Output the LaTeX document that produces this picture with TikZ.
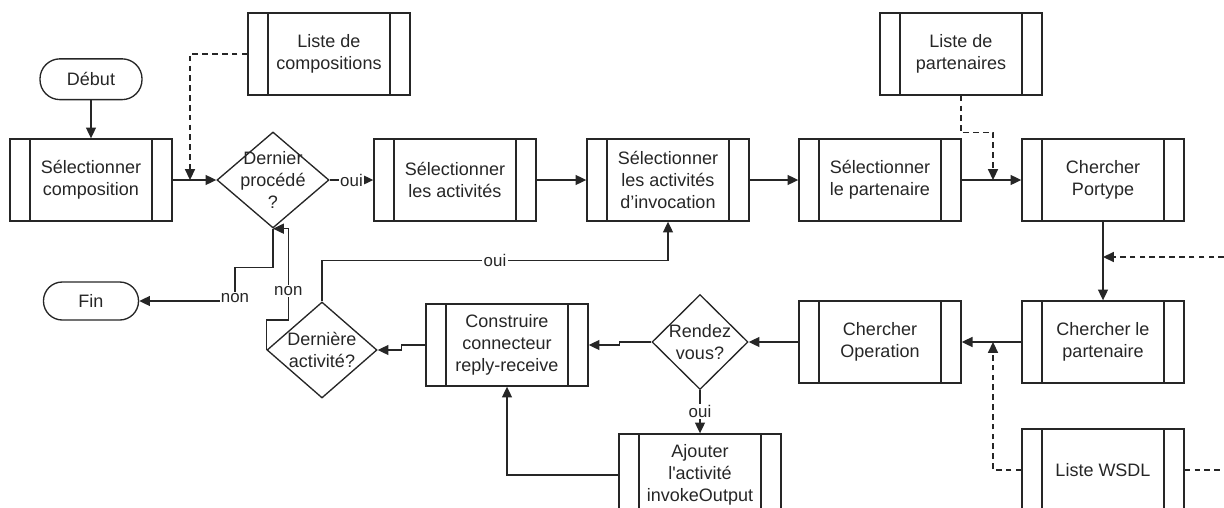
\documentclass[tikz,border=0pt]{standalone}
\usepackage{fontspec}
\setmainfont{Liberation Sans}
\usetikzlibrary{arrows.meta, positioning, shapes.geometric}

\begin{document}
\begin{tikzpicture}[x=0.025cm, y=-0.025cm, line width=0.95pt, color=black!85,
  font=\fontsize{12.8}{15.6}\selectfont,
  process/.style={draw, rectangle, minimum width=4.05cm, minimum height=2.05cm, align=center,
    path picture={\draw ([xshift=0.5cm]path picture bounding box.north west) -- ([xshift=0.5cm]path picture bounding box.south west)
      ([xshift=-0.5cm]path picture bounding box.north east) -- ([xshift=-0.5cm]path picture bounding box.south east);}},
  terminal/.style={draw, rectangle, rounded corners=0.5cm, minimum width=2.55cm, minimum height=1.02cm},
  decision/.style={draw, diamond, inner sep=0pt},
  flow/.style={-{Triangle[length=0.27cm, width=0.25cm]}},
  data/.style={flow, dash pattern=on 4pt off 3pt},
  answer/.style={fill=white, inner sep=1pt, font=\fontsize{12}{14}\selectfont}]
\path[use as bounding box, clip] (0,0) rectangle (1224,507);

\node[process] (selcomp) at (91,180) {Sélectionner\\composition};
\node[terminal, above=0.95cm of selcomp] (debut) {Début};
\node[process] (listecomp) at (329,54) {Liste de\\compositions};
\node[decision, minimum width=2.8cm, minimum height=2.4cm] (dproc) at (273,180) {};
\node[align=center] (dproctxt) at (dproc) {Dernier\\procédé\\?};
\node[process] (selact) at (455,180) {Sélectionner\\les activités};
\node[process] (selinv) at (668,180) {Sélectionner\\les activités\\d’invocation};
\node[process] (selpart) at (880,180) {Sélectionner\\le partenaire};
\node[process] (listepart) at (961,54) {Liste de\\partenaires};
\node[process] (portype) at (1103,180) {Chercher\\Portype};
\node[process] (cherpart) at (1103,342) {Chercher le\\partenaire};
\node[process] (cherop) at (880,342) {Chercher\\Operation};
\node[process] (listewsdl) at (1103,470) {Liste WSDL};
\node[decision, minimum width=2.4cm, minimum height=2.375cm] (rdv) at (700,342) {};
\node[align=center] (rdvtxt) at (rdv) {Rendez\\vous?};
\node[process] (construire) at (507,345) {Construire\\connecteur\\reply-receive};
\node[process] (ajouter) at (700,475) {Ajouter\\l\textquotesingle activité\\invokeOutput};
\node[decision, minimum width=2.75cm, minimum height=2.4cm] (derniere) at (322,350) {};
\node[align=center] (dernieretxt) at (derniere) {Dernière\\activité?};
\node[terminal, rounded corners=0.47cm, minimum width=2.375cm, minimum height=0.95cm] (fin) at (91,301) {Fin};

% premiere ligne
\draw[flow] (debut) -- (selcomp);
\draw[flow] (selcomp) -- (dproc);
\coordinate (jcomp) at (190,180);
\draw[data] (listecomp.west) -| (jcomp);
\draw[flow] (dproc) -- node[answer] {oui} (selact);
\draw[flow] (selact) -- (selinv);
\draw[flow] (selinv) -- (selpart);
\draw[flow] (selpart) -- (portype);
\coordinate (jpart) at (993,180);
\draw[data] (listepart.south) -- ++(0,37) -| (jpart);

% colonne de droite
\draw[flow] (portype) -- (cherpart);
\coordinate (edgea) at (1224,257);
\coordinate (jport) at (1103,257);
\draw[data] (edgea) -- (jport);
\draw[flow] (cherpart) -- (cherop);
\coordinate (jwsdl) at (993,342);
\draw[data] (listewsdl.west) -| (jwsdl);
\coordinate (edgeb) at (1224,470);
\draw[dash pattern=on 4pt off 3pt] (listewsdl.east) -- (edgeb);

% deuxieme ligne
\draw[flow] (cherop) -- (rdv);
\draw[flow] (rdv.west) -- ++(-32,0) |- (construire.east);
\draw[flow] (rdv) -- node[answer] {oui} (ajouter);
\draw[flow] (ajouter.west) -| (construire.south);
\draw[flow] (construire.west) -- ++(-24,0) |- (derniere.east);
\draw[flow] (derniere.north) -- ++(0,-41) -| node[answer, pos=0.25] {oui} (selinv.south);
\draw[flow] (derniere.west) -- ++(0,-30) -- ++(22,0) |- node[answer, pos=0.16] {non} (dproc.south);
\draw[flow] (dproc.south) -- ++(0,39) -- ++(-38,0) |- node[answer, pos=0.45] {non} (fin.east);
\end{tikzpicture}
\end{document}
